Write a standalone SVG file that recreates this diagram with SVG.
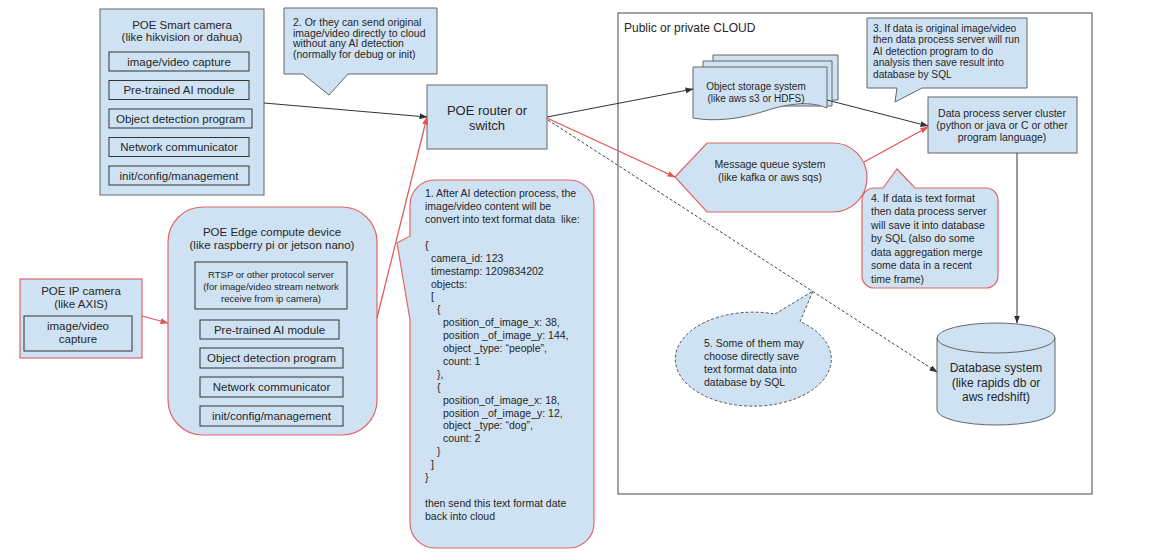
<svg xmlns="http://www.w3.org/2000/svg" width="1173" height="560" viewBox="0 0 1173 560">
<style>
  text { font-family: "Liberation Sans", Arial, sans-serif; fill: #262626; }
  .c { text-anchor: middle; }
  .f13 { font-size: 13px; }
  .f12 { font-size: 12px; }
  .f115 { font-size: 11.5px; }
  .f11 { font-size: 11px; }
  .f105 { font-size: 10.5px; }
  .f102 { font-size: 10.2px; }
  .f10 { font-size: 10px; }
  .f95 { font-size: 9.5px; }
  .pre { white-space: pre; }
  .blue { fill: #cfe2f3; stroke: #666666; stroke-width: 1; }
  .redb { fill: #cfe2f3; stroke: #e06666; stroke-width: 1.2; }
  .inner { fill: #cfe2f3; stroke: #333333; stroke-width: 1; }
  .cloud { fill: #ffffff; stroke: #666666; stroke-width: 1.2; }
  .dash { fill: #cfe2f3; stroke: #555555; stroke-width: 1; stroke-dasharray: 3 2; }
  .ln { fill: none; stroke: #333333; stroke-width: 1; }
  .lr { fill: none; stroke: #e05555; stroke-width: 1.2; }
  .ld { fill: none; stroke: #444444; stroke-width: 1; stroke-dasharray: 3 2; }
</style>
<defs>
  <marker id="ab" markerWidth="8" markerHeight="6" refX="7.5" refY="3" orient="auto" markerUnits="userSpaceOnUse">
    <path d="M0,0 L8,3 L0,6 Z" fill="#333333"/>
  </marker>
  <marker id="ar" markerWidth="8" markerHeight="6" refX="7.5" refY="3" orient="auto" markerUnits="userSpaceOnUse">
    <path d="M0,0 L8,3 L0,6 Z" fill="#e05555"/>
  </marker>
</defs>
<rect width="1173" height="560" fill="#ffffff"/>

<g id="cloud">
  <rect class="cloud" x="618" y="13" width="474" height="481"/>
  <text class="f12" x="624" y="32">Public or private CLOUD</text>
</g>

<g id="smart-camera">
  <rect class="blue" x="100" y="9" width="164" height="186"/>
  <text class="c f115" x="182" y="29">POE Smart camera</text>
  <text class="c f115" x="182" y="41">(like hikvision or dahua)</text>
  <rect class="inner" x="109" y="52" width="140" height="19"/>
  <text class="c f115" x="179" y="65.5">image/video capture</text>
  <rect class="inner" x="109" y="80.5" width="140" height="19"/>
  <text class="c f115" x="179" y="94">Pre-trained AI module</text>
  <rect class="inner" x="109" y="109" width="143" height="19"/>
  <text class="c f115" x="180.5" y="122.5">Object detection program</text>
  <rect class="inner" x="109" y="137.5" width="140" height="19"/>
  <text class="c f115" x="179" y="151">Network communicator</text>
  <rect class="inner" x="109" y="166" width="140" height="19"/>
  <text class="c f115" x="179" y="179.5">init/config/management</text>
</g>

<g id="callout-2">
  <path class="blue" d="M284,8 H437 V74 H348 L329,95 L303,74 H284 Z"/>
  <text class="f105" x="293" y="25.5">2. Or they can send original</text>
  <text class="f105" x="293" y="36.5">image/video directly to cloud</text>
  <text class="f105" x="293" y="47">without any AI detection</text>
  <text class="f105" x="293" y="57.5">(normally for debug or init)</text>
</g>

<g id="router">
  <rect class="blue" x="427" y="85" width="120" height="64"/>
  <text class="c f13" x="487" y="114.5">POE router or</text>
  <text class="c f13" x="487" y="129.5">switch</text>
</g>

<g id="ip-camera">
  <rect class="redb" x="20" y="279" width="122" height="79"/>
  <text class="c f115" x="81" y="295">POE IP camera</text>
  <text class="c f115" x="81" y="308">(like AXIS)</text>
  <rect class="inner" x="24" y="316" width="108" height="35"/>
  <text class="c f115" x="78" y="330">image/video</text>
  <text class="c f115" x="78" y="343">capture</text>
</g>

<g id="edge-device">
  <rect class="redb" x="168" y="207" width="209" height="228" rx="35" ry="35"/>
  <text class="c f115" x="272" y="236">POE Edge compute device</text>
  <text class="c f115" x="272" y="249">(like raspberry pi or jetson nano)</text>
  <rect class="inner" x="195" y="262" width="152" height="47"/>
  <text class="c f95" x="271" y="277.5">RTSP or other protocol server</text>
  <text class="c f95" x="271" y="289.5">(for image/video stream network</text>
  <text class="c f95" x="271" y="301.5">receive from ip camera)</text>
  <rect class="inner" x="200" y="320" width="139" height="19"/>
  <text class="c f115" x="269.5" y="333.5">Pre-trained AI module</text>
  <rect class="inner" x="200" y="348" width="143" height="20"/>
  <text class="c f115" x="271.5" y="362">Object detection program</text>
  <rect class="inner" x="200" y="377" width="143" height="20"/>
  <text class="c f115" x="271.5" y="391">Network communicator</text>
  <rect class="inner" x="200" y="406" width="143" height="20"/>
  <text class="c f115" x="271.5" y="420">init/config/management</text>
</g>

<g id="callout-1">
  <path class="redb" d="M435,180 H569 A25,25 0 0 1 594,205 V523 A25,25 0 0 1 569,548 H435 A25,25 0 0 1 410,523 V320 L397,243 L410,236 V205 A25,25 0 0 1 435,180 Z"/>
  <text class="f105" x="425" y="197">1. After AI detection process, the</text>
  <text class="f105" x="425" y="210">image/video content will be</text>
  <text class="f105 pre" x="425" y="223">convert into text format data  like:</text>
  <text class="f105" x="425" y="248.8">{</text>
  <text class="f105" x="431" y="261.7">camera_id: 123</text>
  <text class="f105" x="431" y="274.6">timestamp: 1209834202</text>
  <text class="f105" x="431" y="287.5">objects:</text>
  <text class="f105" x="431" y="300.4">[</text>
  <text class="f105" x="437" y="313.3">{</text>
  <text class="f105" x="443" y="326.2">position_of_image_x: 38,</text>
  <text class="f105" x="443" y="339.1">position _of_image_y: 144,</text>
  <text class="f105" x="443" y="352">object _type: “people”,</text>
  <text class="f105" x="443" y="364.9">count: 1</text>
  <text class="f105" x="437" y="377.8">},</text>
  <text class="f105" x="437" y="390.7">{</text>
  <text class="f105" x="443" y="403.6">position_of_image_x: 18,</text>
  <text class="f105" x="443" y="416.5">position _of_image_y: 12,</text>
  <text class="f105" x="443" y="429.4">object _type: “dog”,</text>
  <text class="f105" x="443" y="442.3">count: 2</text>
  <text class="f105" x="437" y="455.2">}</text>
  <text class="f105" x="431" y="468.1">]</text>
  <text class="f105" x="425" y="481">}</text>
  <text class="f105" x="425" y="506.8">then send this text format date</text>
  <text class="f105" x="425" y="519.7">back into cloud</text>
</g>

<g id="object-storage">
  <path class="blue" d="M713,55 H838 V100 L713,100 Z"/>
  <path class="blue" d="M703,61 H832 V106 L703,106 Z"/>
  <path class="blue" d="M693,67 H827 V108 C810,101 790,103 765,111 C740,119 715,122 693,118 Z"/>
  <text class="c f10" x="756" y="89.5">Object storage system</text>
  <text class="c f10" x="756" y="101.5">(like aws s3 or HDFS)</text>
</g>

<g id="callout-3">
  <path class="blue" d="M867,18 H1027 V88 H922 L895,102 L897,88 H867 Z"/>
  <text class="f102" x="873" y="31.7">3. If data is original image/video</text>
  <text class="f102" x="873" y="43.2">then data process server will run</text>
  <text class="f102" x="873" y="54.7">AI detection program to do</text>
  <text class="f102" x="873" y="66.2">analysis then save result into</text>
  <text class="f102" x="873" y="77.7">database by SQL</text>
</g>

<g id="data-process">
  <rect class="blue" x="928" y="97" width="149" height="56"/>
  <text class="c f105" x="1002" y="116.8">Data process server cluster</text>
  <text class="c f105" x="1002" y="128.8">(python or java or C or other</text>
  <text class="c f105" x="1002" y="140.8">program language)</text>
</g>

<g id="message-queue">
  <path class="redb" d="M675,177 L707,143 H833 A34,34.5 0 0 1 833,212 H707 Z"/>
  <text class="c f105" x="770" y="167.5">Message queue system</text>
  <text class="c f105" x="770" y="180.5">(like kafka or aws sqs)</text>
</g>

<g id="callout-4">
  <path class="redb" d="M874,188 H883 L897,169 L915,188 H986 A12,12 0 0 1 998,200 V276 A12,12 0 0 1 986,288 H874 A12,12 0 0 1 862,276 V200 A12,12 0 0 1 874,188 Z"/>
  <text class="f105" x="871" y="201.8">4. If data is text format</text>
  <text class="f105" x="871" y="215.3">then data process server</text>
  <text class="f105" x="871" y="228.8">will save it into database</text>
  <text class="f105" x="871" y="242.3">by SQL (also do some</text>
  <text class="f105" x="871" y="255.8">data aggregation merge</text>
  <text class="f105" x="871" y="269.3">some data in a recent</text>
  <text class="f105" x="871" y="282.8">time frame)</text>
</g>

<g id="callout-5">
  <path class="dash" d="M775,314 L813,291 L800,321.5 A78,47 0 1 1 775,314 Z"/>
  <text class="f105" x="704" y="346.8">5. Some of them may</text>
  <text class="f105" x="704" y="360">choose directly save</text>
  <text class="f105" x="704" y="373.2">text format data into</text>
  <text class="f105" x="704" y="386.4">database by SQL</text>
</g>

<g id="database">
  <path class="blue" d="M937,338 A59,15 0 0 1 1055,338 V410 A59,15 0 0 1 937,410 Z"/>
  <path fill="none" stroke="#666666" d="M937,338 A59,15 0 0 0 1055,338"/>
  <text class="c f12" x="996" y="372">Database system</text>
  <text class="c f12" x="996" y="387">(like rapids db or</text>
  <text class="c f12" x="996" y="401">aws redshift)</text>
</g>

<g id="connectors">
  <line class="ln" x1="264" y1="103" x2="427" y2="117" marker-end="url(#ab)"/>
  <line class="lr" x1="377" y1="318" x2="427" y2="117" marker-end="url(#ar)"/>
  <line class="lr" x1="142" y1="316" x2="168" y2="323" marker-end="url(#ar)"/>
  <line class="ln" x1="547" y1="117" x2="693" y2="89" marker-end="url(#ab)"/>
  <line class="lr" x1="547" y1="118" x2="675" y2="177" marker-end="url(#ar)"/>
  <line class="ld" x1="548" y1="120" x2="937" y2="372" marker-end="url(#ab)"/>
  <line class="ln" x1="827" y1="100" x2="928" y2="126" marker-end="url(#ab)"/>
  <line class="lr" x1="864" y1="162" x2="928" y2="127" marker-end="url(#ar)"/>
  <line class="ln" x1="1017" y1="153" x2="1017" y2="323" marker-end="url(#ab)"/>
</g>
</svg>
